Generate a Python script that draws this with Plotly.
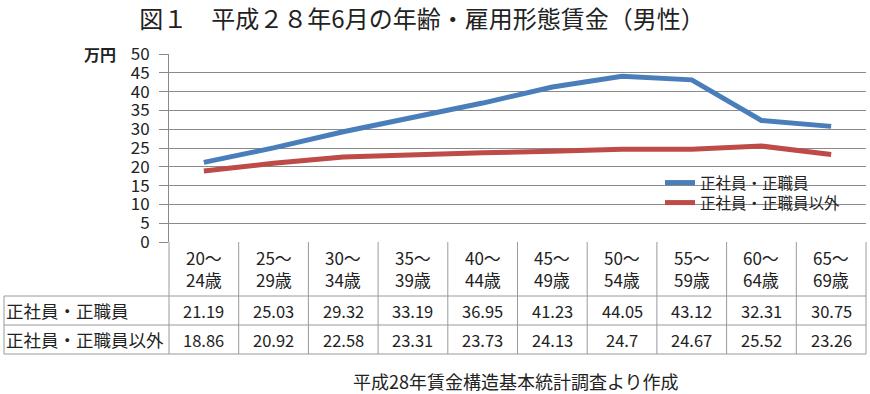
import plotly.graph_objects as go

categories_top = ["20～", "25～", "30～", "35～", "40～", "45～", "50～", "55～", "60～", "65～"]
categories_bottom = ["24歳", "29歳", "34歳", "39歳", "44歳", "49歳", "54歳", "59歳", "64歳", "69歳"]
series_names = ["正社員・正職員", "正社員・正職員以外"]
regular = [21.19, 25.03, 29.32, 33.19, 36.95, 41.23, 44.05, 43.12, 32.31, 30.75]
non_regular = [18.86, 20.92, 22.58, 23.31, 23.73, 24.13, 24.7, 24.67, 25.52, 23.26]
regular_txt = ["21.19", "25.03", "29.32", "33.19", "36.95", "41.23", "44.05", "43.12", "32.31", "30.75"]
non_regular_txt = ["18.86", "20.92", "22.58", "23.31", "23.73", "24.13", "24.7", "24.67", "25.52", "23.26"]
y_ticks = [0, 5, 10, 15, 20, 25, 30, 35, 40, 45, 50]

W, H = 870, 394
L, R, T, B = 169, 866, 54, 242
FONT = "Noto Sans CJK JP"
GRID = "#8a8a8a"
BORDER = "#9a9a9a"


def px2x(px):
    return (px - L) / (R - L)


def py2y(py):
    return (B - py) / (B - T)


n = len(categories_top)
xs = list(range(n))

fig = go.Figure()
fig.add_trace(go.Scatter(x=xs, y=regular, mode="lines", name=series_names[0],
                         line=dict(color="#4A7EBB", width=5), legend="legend"))
fig.add_trace(go.Scatter(x=xs, y=non_regular, mode="lines", name=series_names[1],
                         line=dict(color="#BE4B48", width=5), legend="legend2"))

shapes = []
# white box behind legend hiding gridlines
shapes.append(dict(type="rect", xref="paper", yref="paper", x0=px2x(636), x1=1, y0=py2y(214), y1=py2y(176),
                   fillcolor="white", line=dict(width=0), layer="between"))
# table lines
line_style = dict(color=BORDER, width=1)
col_w = (R - L) / n
for i in range(n + 1):
    xp = L + i * col_w
    shapes.append(dict(type="line", xref="paper", yref="paper", x0=px2x(xp), x1=px2x(xp),
                       y0=py2y(354), y1=py2y(242), line=line_style))
shapes.append(dict(type="line", xref="paper", yref="paper", x0=px2x(4), x1=px2x(4),
                   y0=py2y(354), y1=py2y(296), line=line_style))
for yp in (296, 325, 354):
    shapes.append(dict(type="line", xref="paper", yref="paper", x0=px2x(4), x1=1,
                       y0=py2y(yp), y1=py2y(yp), line=line_style))

annotations = []
for i in range(n):
    annotations.append(dict(x=i, xref="x", xanchor="center", y=py2y(268.5), yref="paper", yanchor="middle",
                            text=categories_top[i] + "<br>" + categories_bottom[i], showarrow=False,
                            font=dict(family=FONT, size=17, color="#222")))
    annotations.append(dict(x=i, xref="x", xanchor="center", y=py2y(310.5), yref="paper", yanchor="middle",
                            text=regular_txt[i], showarrow=False,
                            font=dict(family=FONT, size=16.5, color="#222")))
    annotations.append(dict(x=i, xref="x", xanchor="center", y=py2y(339.5), yref="paper", yanchor="middle",
                            text=non_regular_txt[i], showarrow=False,
                            font=dict(family=FONT, size=16.5, color="#222")))
for name, yp in ((series_names[0], 310.5), (series_names[1], 339.5)):
    annotations.append(dict(x=px2x(4), xref="paper", xanchor="left", y=py2y(yp), yref="paper",
                            yanchor="middle", text=name, showarrow=False,
                            font=dict(family=FONT, size=17.5, color="#222")))
annotations.append(dict(x=px2x(100), xref="paper", xanchor="center", y=py2y(54), yref="paper",
                        yanchor="middle", text="<b>万円</b>", showarrow=False,
                        font=dict(family=FONT, size=16, color="#222")))
annotations.append(dict(x=px2x(516), xref="paper", xanchor="center", y=py2y(381), yref="paper",
                        yanchor="middle", text="平成28年賃金構造基本統計調査より作成", showarrow=False,
                        font=dict(family=FONT, size=18, color="#222")))

legend_common = dict(xanchor="left", yanchor="middle", bgcolor="rgba(0,0,0,0)",
                     font=dict(family=FONT, size=15.5, color="#222"), itemwidth=30, borderwidth=0)

fig.update_layout(
    width=W, height=H,
    margin=dict(l=L, r=W - R, t=T, b=H - B, pad=0),
    paper_bgcolor="white", plot_bgcolor="white",
    title=dict(text="図１　平成２８年6月の年齢・雇用形態賃金（男性）", x=422 / W,
               xanchor="center", y=1 - 20 / H, yanchor="middle",
               font=dict(family=FONT, size=24, color="#222")),
    xaxis=dict(range=[-0.5, n - 0.5], showgrid=False, showticklabels=False, zeroline=False,
               showline=False, ticks="", fixedrange=True),
    yaxis=dict(range=[0, 50], tickvals=y_ticks, showgrid=True, gridcolor=GRID, gridwidth=1,
               zeroline=False, showline=True, linecolor=GRID, linewidth=1, ticks="outside",
               ticklen=9, tickcolor=GRID, ticklabelstandoff=6,
               tickfont=dict(family=FONT, size=17, color="#222")),
    legend=dict(x=px2x(660), y=py2y(183), **legend_common),
    legend2=dict(x=px2x(660), y=py2y(203), **legend_common),
    shapes=shapes,
    annotations=annotations,
    showlegend=True,
)

fig.write_html("out.html", post_script="document.body.style.margin='0';",
               config={"displayModeBar": False})
